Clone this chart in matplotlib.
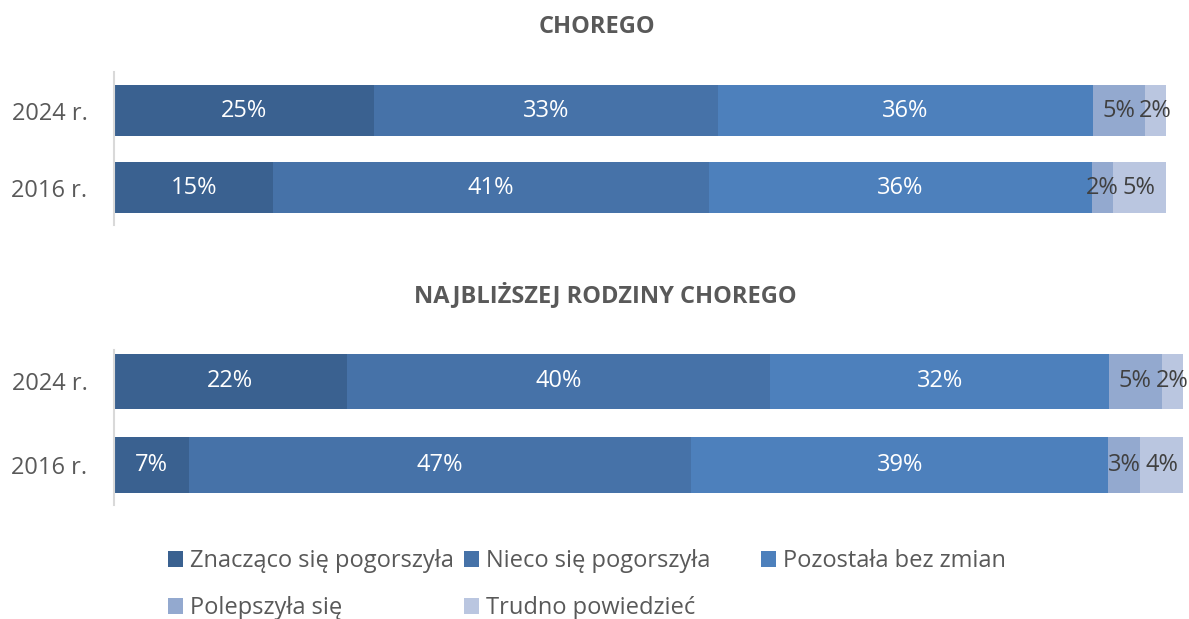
import numpy as np
import matplotlib.pyplot as plt
from matplotlib.patches import Patch

plt.rcParams['font.family'] = ['Open Sans', 'DejaVu Sans']

# dane
lata = ['2016 r.', '2024 r.']
kategorie = ['Znacząco się pogorszyła', 'Nieco się pogorszyła', 'Pozostała bez zmian',
             'Polepszyła się', 'Trudno powiedzieć']
chorego_2016 = [15, 41, 36, 2, 5]
chorego_2024 = [25, 33, 36, 5, 2]
rodzina_2016 = [7, 47, 39, 3, 4]
rodzina_2024 = [22, 40, 32, 5, 2]

kolory = ['#3A6190', '#4672A8', '#4D80BC', '#93A9CF', '#BAC6E0']
kolory_tekstu = ['white', 'white', 'white', '#404040', '#404040']

fig = plt.figure(figsize=(11.89, 6.19), dpi=100)

ax1 = fig.add_axes([114 / 1189, 1 - 225 / 619, 1052 / 1189, 153 / 619])
ax2 = fig.add_axes([114 / 1189, 1 - 505 / 619, 1069 / 1189, 155 / 619])


def rysuj(ax, wiersze, ylim, wys):
    for i, wiersz in enumerate(wiersze):
        wartosci = np.array(wiersz, dtype=float)
        udzialy = wartosci / wartosci.sum() * 100
        lewo = 0
        for j, (u, w) in enumerate(zip(udzialy, wartosci)):
            ax.barh(i, u, left=lewo, height=wys, color=kolory[j], edgecolor='none')
            ax.text(lewo + u / 2, i, f'{int(w)}%', ha='center', va='center',
                    fontsize=17, color=kolory_tekstu[j])
            lewo += u
    ax.set_xlim(0, 100)
    ax.set_ylim(*ylim)
    ax.set_yticks(range(len(lata)))
    ax.set_yticklabels(lata, fontsize=17, color='#595959')
    ax.tick_params(axis='y', length=0, pad=19)
    ax.set_xticks([])
    for s in ['top', 'right', 'bottom']:
        ax.spines[s].set_visible(False)
    ax.spines['left'].set_color('#D9D9D9')
    ax.spines['left'].set_linewidth(1.5)


rysuj(ax1, [chorego_2016, chorego_2024], (-0.483, 1.504), 0.666)
rysuj(ax2, [rodzina_2016, rodzina_2024], (-0.479, 1.377), 0.665)

fig.text(597 / 1189, 1 - 27 / 619, 'CHOREGO', ha='center', va='center',
         fontsize=17, fontweight='bold', color='#595959')
fig.text(605 / 1189, 1 - 295 / 619, 'NAJBLIŻSZEJ RODZINY CHOREGO', ha='center', va='center',
         fontsize=17, fontweight='bold', color='#595959')

# legenda - trzy kolumny ustawione osobno
uchwyty = [Patch(facecolor=c, edgecolor='none') for c in kolory]
kolumny = [([0, 3], 168), ([1, 4], 464), ([2], 761)]
for idx, x in kolumny:
    leg = fig.legend([uchwyty[k] for k in idx], [kategorie[k] for k in idx],
                     loc='upper left', bbox_to_anchor=(x / 1189, 1 - 549 / 619),
                     frameon=False, fontsize=17, borderpad=0, borderaxespad=0,
                     handlelength=0.64, handleheight=0.64, handletextpad=0.3,
                     labelspacing=0.98)
    for t in leg.get_texts():
        t.set_color('#595959')

plt.savefig('out.png', dpi=100)
